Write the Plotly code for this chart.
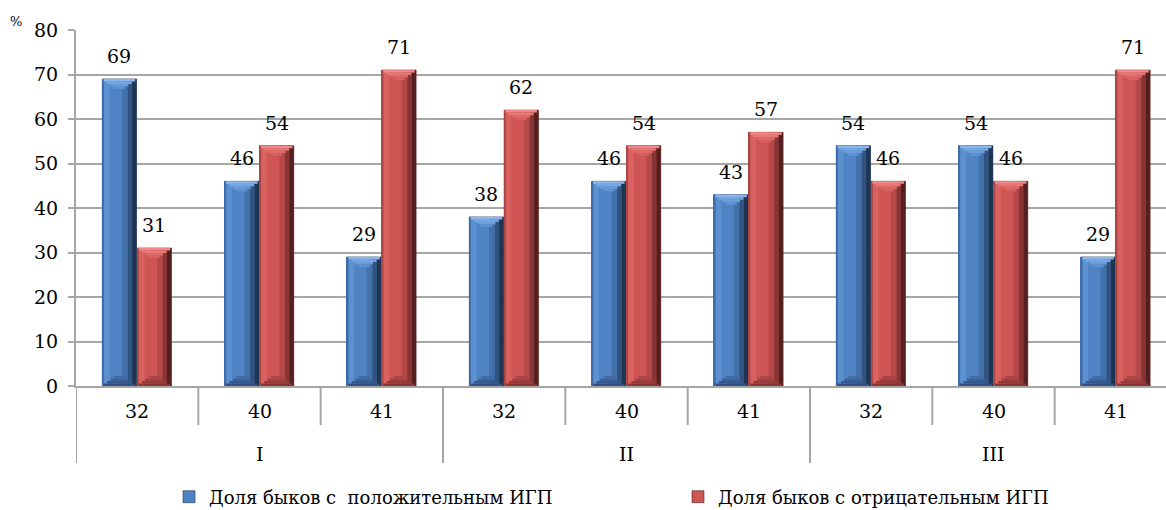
import plotly.graph_objects as go

# Groups (I, II, III) and sub-categories shown on the x axis
groups = ["I", "I", "I", "II", "II", "II", "III", "III", "III"]
subcats = ["32", "40", "41", "32", "40", "41", "32", "40", "41"]

# Share of bulls, %
positive = [69, 46, 29, 38, 46, 43, 54, 54, 29]
negative = [31, 54, 71, 62, 54, 57, 46, 46, 71]

series_names = ["Доля быков с  положительным ИГП", "Доля быков с отрицательным ИГП"]
y_ticks = [0, 10, 20, 30, 40, 50, 60, 70, 80]

FONT = "DejaVu Serif, Liberation Serif, serif"
FS = 19
GRID = "#a6a6a6"
W, H = 1166, 510
M_L, M_T, M_B = 76, 30, 124
PLOT_W = W - M_L
PLOT_H = H - M_T - M_B   # plot area height in px
Y_MAX = 80
PX = Y_MAX / PLOT_H      # one pixel in data units

BAR_W = 0.28             # bar width in category units
OFFSETS = [-0.285, 0.0]  # left edge of each series' bar relative to category centre

# Cylinder-like shading: vertical strips (fraction start, fraction end, colour)
SHADES = [
    [(0.00, 0.05, "#3f6ba6"), (0.05, 0.22, "#5c90d0"), (0.22, 0.58, "#4f83c4"),
     (0.58, 0.74, "#4371ab"), (0.74, 0.87, "#30537f"), (0.87, 1.00, "#1f3452")],
    [(0.00, 0.05, "#a94747"), (0.05, 0.22, "#d9625f"), (0.22, 0.58, "#ce5553"),
     (0.58, 0.74, "#b54848"), (0.74, 0.87, "#873434"), (0.87, 1.00, "#561f1f")],
]
TOP_BEVEL = [["#8ab6ec", "#78a8e4", "#6a9dda", "#5f94d2"],
             ["#f08a88", "#e67876", "#de6b69", "#d76260"]]
BOTTOM_BEVEL = [["#2f5286", "#35598f", "#3c6298", "#436ba2"],
                ["#8c3434", "#963a3a", "#a04040", "#aa4646"]]
BASE_COLORS = ["#4f83c4", "#ce5553"]
EDGE_COLORS = ["#1f3452", "#561f1f"]

x_multi = [groups, subcats]
fig = go.Figure()

for s, vals in enumerate([positive, negative]):
    # full bar (also provides the legend entry)
    fig.add_trace(go.Bar(
        x=x_multi, y=vals, name=series_names[s],
        offset=OFFSETS[s], width=BAR_W,
        marker=dict(color=BASE_COLORS[s], line=dict(color=EDGE_COLORS[s], width=0.6)),
        hoverinfo="skip", showlegend=True, legend="legend" if s == 0 else "legend2",
    ))
    for a, b, c in SHADES[s]:
        fig.add_trace(go.Bar(
            x=x_multi, y=vals, offset=OFFSETS[s] + a * BAR_W, width=(b - a) * BAR_W,
            marker=dict(color=c, line=dict(width=0)),
            hoverinfo="skip", showlegend=False,
        ))
    # bevelled top and bottom: stacked bands that narrow towards the bar's middle
    band = 2.5 * PX
    for k in range(4):
        inset = 0.04 + k * 0.1
        fig.add_trace(go.Bar(
            x=x_multi, y=[band] * len(vals), base=[v - (k + 1) * band for v in vals],
            offset=OFFSETS[s] + inset * BAR_W, width=(1 - 2 * inset) * BAR_W,
            marker=dict(color=TOP_BEVEL[s][k], line=dict(width=0)),
            hoverinfo="skip", showlegend=False,
        ))
        fig.add_trace(go.Bar(
            x=x_multi, y=[band] * len(vals), base=[k * band] * len(vals),
            offset=OFFSETS[s] + inset * BAR_W, width=(1 - 2 * inset) * BAR_W,
            marker=dict(color=BOTTOM_BEVEL[s][k], line=dict(width=0)),
            hoverinfo="skip", showlegend=False,
        ))

# value labels above the bars
annotations = []
for s, vals in enumerate([positive, negative]):
    for i, v in enumerate(vals):
        annotations.append(dict(
            x=i + OFFSETS[s] + BAR_W / 2, y=v, xref="x", yref="y",
            text=str(v), showarrow=False, yanchor="middle", yshift=23,
            font=dict(family=FONT, size=FS, color="black"),
        ))

# unit label next to the top of the y axis
annotations.append(dict(
    x=-60 / PLOT_W, y=(PLOT_H + 8) / PLOT_H, xref="paper", yref="paper", text="%",
    xanchor="center", yanchor="middle",
    showarrow=False, font=dict(family=FONT, size=13, color="black"),
))

# two-level category labels
for i, c in enumerate(subcats):
    annotations.append(dict(
        x=i, y=-25 / PLOT_H, xref="x", yref="paper", text=c, showarrow=False,
        yanchor="middle", font=dict(family=FONT, size=FS, color="black"),
    ))
group_names = list(dict.fromkeys(groups))
shapes = []
for g in group_names:
    idx = [i for i, gg in enumerate(groups) if gg == g]
    annotations.append(dict(
        x=(idx[0] + idx[-1]) / 2, y=-68 / PLOT_H, xref="x", yref="paper", text=g,
        showarrow=False, yanchor="middle", font=dict(family=FONT, size=FS, color="black"),
    ))

# separators: short between sub-categories, long between groups
for i in range(-1, len(subcats)):
    same_group = 0 <= i < len(subcats) - 1 and groups[i] == groups[i + 1]
    depth = 39 if same_group else 77
    shapes.append(dict(type="line", xref="x", yref="paper",
                       x0=i + 0.5, x1=i + 0.5, y0=0, y1=-depth / PLOT_H,
                       line=dict(color=GRID, width=2)))

legend_common = dict(orientation="h", yanchor="middle", xanchor="left",
                     yref="container", y=(H - 497) / H,
                     font=dict(family=FONT, size=18, color="black"),
                     bgcolor="rgba(0,0,0,0)", itemwidth=30)

fig.update_layout(
    width=W, height=H,
    margin=dict(l=M_L, r=0, t=M_T, b=M_B, autoexpand=False),
    paper_bgcolor="white", plot_bgcolor="white",
    barmode="overlay",
    font=dict(family=FONT, size=FS, color="black"),
    showlegend=True,
    legend=dict(x=(169 - M_L) / PLOT_W, **legend_common),
    legend2=dict(x=(678 - M_L) / PLOT_W, **legend_common),
    annotations=annotations,
    shapes=shapes,
)
fig.update_xaxes(
    type="multicategory", range=[-0.5, 8.41],
    showline=True, linecolor=GRID, linewidth=2,
    ticks="", showgrid=False, showticklabels=False, showdividers=False,
)
fig.update_yaxes(
    range=[0, Y_MAX], tickvals=y_ticks,
    showline=True, linecolor=GRID, linewidth=2,
    ticks="outside", ticklen=6, tickcolor=GRID, tickwidth=2,
    showgrid=True, gridcolor=GRID, gridwidth=2,
    zeroline=False, ticklabelstandoff=6,
    tickfont=dict(family=FONT, size=FS, color="black"),
)

fig.write_html("out.html")
